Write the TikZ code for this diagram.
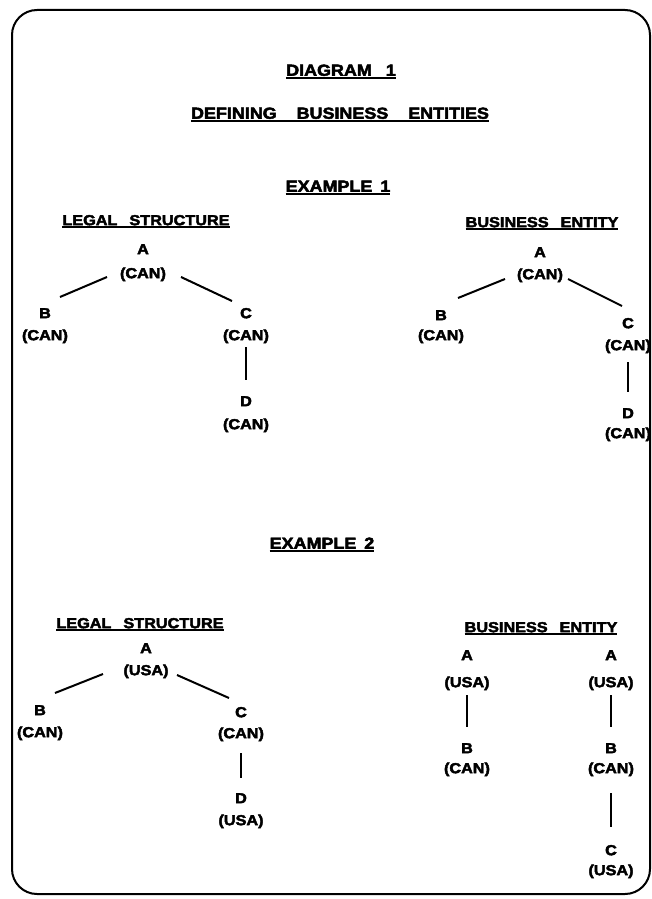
\documentclass[tikz,border=0pt]{standalone}
\usepackage{fontspec}
\setmainfont{Liberation Sans}[FakeStretch=1.12,BoldFeatures={FakeBold=3}]
\usetikzlibrary{calc}
\newcommand\ulx[1]{\setbox0\hbox{#1}\rlap{\rule[-3pt]{\wd0}{2pt}}\box0}
\begin{document}
\begin{tikzpicture}[x=1pt,y=-1pt,
 ent/.style={font=\fontsize{14.5}{17}\selectfont\bfseries, inner sep=0pt, text height=10.4pt, text depth=0pt},
 ttl/.style={font=\fontsize{16}{19}\selectfont\bfseries, inner sep=0pt, text height=11.5pt, text depth=0pt},
 lnk/.style={line width=2pt}]
\fill[white] (0,0) rectangle (651,899);
\useasboundingbox (0,0) rectangle (651,899);
\draw[line width=2pt, rounded corners=25pt] (12,10) rectangle (650,894);

% titles
\node[ttl] (t1) at (341,70) {\ulx{DIAGRAM\hspace{14pt}1}};
\node[ttl] (t2) at (340,113) {\ulx{DEFINING\hspace{20pt}BUSINESS\hspace{20pt}ENTITIES}};
\node[ttl] (t3) at (338,186) {\ulx{EXAMPLE\hspace{8pt}1}};
\node[ttl] (t4) at (322,543) {\ulx{EXAMPLE\hspace{8pt}2}};

% sub headings
\node[ent] (h1) at (146,220) {\ulx{LEGAL\hspace{12pt}STRUCTURE}};
\node[ent] (h2) at (542,222) {\ulx{BUSINESS\hspace{12pt}ENTITY}};
\node[ent] (h3) at (140,623) {\ulx{LEGAL\hspace{12pt}STRUCTURE}};
\node[ent] (h4) at (541,627) {\ulx{BUSINESS\hspace{12pt}ENTITY}};

% Example 1, legal structure
\node[ent] (a1) at (143,249) {A};
\node[ent] (a1c) at (143,273) {(CAN)};
\node[ent] (b1) at (45,313) {B};
\node[ent] (b1c) at (45,335) {(CAN)};
\node[ent] (c1) at (246,313) {C};
\node[ent] (c1c) at (246,335) {(CAN)};
\node[ent] (d1) at (246,401) {D};
\node[ent] (d1c) at (246,424) {(CAN)};
\draw[lnk] ($(a1c)+(-36,4)$) -- ($(b1)+(15,-16)$);
\draw[lnk] ($(a1c)+(38,4)$) -- ($(c1)+(-14,-12)$);
\draw[lnk] ($(c1c)+(0,12)$) -- ($(d1)+(0,-21)$);

% Example 1, business entity
\node[ent] (a2) at (540,252) {A};
\node[ent] (a2c) at (540,274) {(CAN)};
\node[ent] (b2) at (441,315) {B};
\node[ent] (b2c) at (441,335) {(CAN)};
\node[ent] (c2) at (628,323) {C};
\node[ent] (c2c) at (628,345) {(CAN)};
\node[ent] (d2) at (628,413) {D};
\node[ent] (d2c) at (628,433) {(CAN)};
\draw[lnk] ($(a2c)+(-35,5)$) -- ($(b2)+(17,-17)$);
\draw[lnk] ($(a2c)+(28,5)$) -- ($(c2)+(-6,-17)$);
\draw[lnk] ($(c2c)+(0,17)$) -- ($(d2)+(0,-21)$);

% Example 2, legal structure
\node[ent] (a3) at (146,648) {A};
\node[ent] (a3c) at (146,670) {(USA)};
\node[ent] (b3) at (40,710) {B};
\node[ent] (b3c) at (40,732) {(CAN)};
\node[ent] (c3) at (241,712) {C};
\node[ent] (c3c) at (241,733) {(CAN)};
\node[ent] (d3) at (241,798) {D};
\node[ent] (d3c) at (241,820) {(USA)};
\draw[lnk] ($(a3c)+(-43,4)$) -- ($(b3)+(15,-17)$);
\draw[lnk] ($(a3c)+(31,5)$) -- ($(c3)+(-12,-14)$);
\draw[lnk] ($(c3c)+(0,20)$) -- ($(d3)+(0,-20)$);

% Example 2, business entity
\node[ent] (a4) at (467,655) {A};
\node[ent] (a4c) at (467,682) {(USA)};
\node[ent] (b4) at (467,748) {B};
\node[ent] (b4c) at (467,768) {(CAN)};
\draw[lnk] ($(a4c)+(0,13)$) -- ($(b4)+(0,-21)$);

\node[ent] (a5) at (611,655) {A};
\node[ent] (a5c) at (611,682) {(USA)};
\node[ent] (b5) at (611,748) {B};
\node[ent] (b5c) at (611,768) {(CAN)};
\node[ent] (c5) at (611,850) {C};
\node[ent] (c5c) at (611,870) {(USA)};
\draw[lnk] ($(a5c)+(0,13)$) -- ($(b5)+(0,-21)$);
\draw[lnk] ($(b5c)+(0,25)$) -- ($(c5)+(0,-23)$);
\end{tikzpicture}
\end{document}
